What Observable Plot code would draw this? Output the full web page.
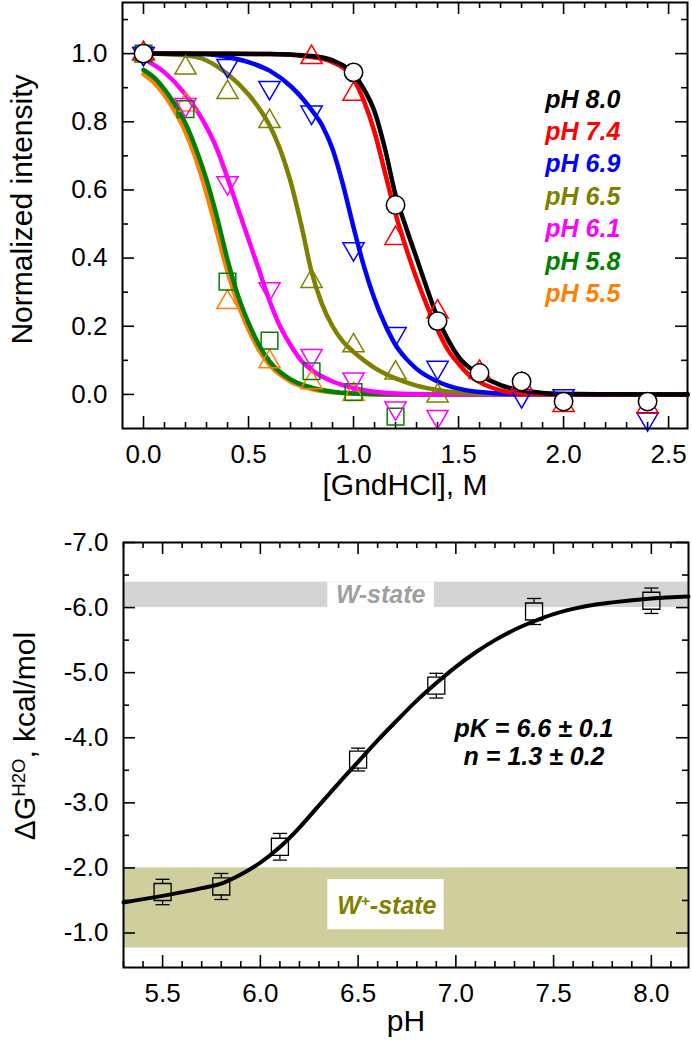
<!DOCTYPE html>
<html><head><meta charset="utf-8">
<script src="https://cdn.jsdelivr.net/npm/d3@7"></script>
<script src="https://cdn.jsdelivr.net/npm/@observablehq/plot@0.6"></script>
<style>
body{margin:0;background:#fff;}
#chart{width:692px;}
#chart svg{display:block;}
</style></head><body><div id="chart"></div>
<script>
// ---------- TOP PANEL DATA ----------
const seriesNames = ["pH 8.0","pH 7.4","pH 6.9","pH 6.5","pH 6.1","pH 5.8","pH 5.5"];
const seriesColors = ["#000000","#ff0000","#0000ff","#808000","#ff00ff","#008000","#ff8000"];
const seriesSymbols = ["circle","triangle","triangleDown","triangle","triangleDown","square","triangle"];

const gnd80 = [0, 1.0, 1.2, 1.4, 1.6, 1.8, 2.0, 2.4];
const int80 = [1.0, 0.945, 0.556, 0.215, 0.063, 0.038, -0.021, -0.021];
const gnd74 = [0, 0.8, 1.0, 1.2, 1.4, 1.6, 1.8, 2.0, 2.4];
const int74 = [1.0, 0.989, 0.881, 0.458, 0.242, 0.065, 0.03, -0.032, -0.037];
const gnd69 = [0, 0.4, 0.6, 0.8, 1.0, 1.2, 1.4, 1.8, 2.0, 2.4];
const int69 = [1.0, 0.965, 0.90, 0.828, 0.427, 0.178, 0.079, -0.004, -0.004, -0.072];
const gnd65 = [0, 0.2, 0.4, 0.6, 0.8, 1.0, 1.2, 1.4];
const int65 = [1.0, 0.958, 0.886, 0.801, 0.332, 0.143, 0.063, -0.004];
const gnd61 = [0, 0.2, 0.4, 0.6, 0.8, 1.0, 1.2, 1.4];
const int61 = [1.0, 0.85, 0.621, 0.31, 0.114, 0.045, -0.04, -0.065];
const gnd58 = [0, 0.2, 0.4, 0.6, 0.8, 1.0, 1.2];
const int58 = [1.0, 0.837, 0.331, 0.158, 0.068, 0.007, -0.065];
const gnd55 = [0, 0.2, 0.4, 0.6, 0.8, 1.0];
const int55 = [1.0, 0.85, 0.27, 0.096, 0.035, 0.0];

// fitted curves
const fit80X = [0, 0.6, 0.8, 0.9, 1.0, 1.05, 1.1, 1.15, 1.2, 1.25, 1.3, 1.35, 1.4, 1.45, 1.5, 1.6, 1.7, 1.8, 1.9, 2.0, 2.59];
const fit80Y = [1.0, 0.999, 0.993, 0.98, 0.94, 0.895, 0.83, 0.72, 0.585, 0.49, 0.40, 0.31, 0.225, 0.16, 0.11, 0.058, 0.027, 0.012, 0.004, 0.001, 0];
const fit74X = [0, 0.6, 0.8, 0.9, 1.0, 1.05, 1.1, 1.15, 1.2, 1.25, 1.3, 1.35, 1.4, 1.45, 1.5, 1.55, 1.6, 1.7, 1.8, 2.0, 2.59];
const fit74Y = [1.0, 0.999, 0.99, 0.975, 0.925, 0.86, 0.77, 0.65, 0.53, 0.43, 0.34, 0.26, 0.19, 0.13, 0.09, 0.057, 0.036, 0.012, 0.003, 0, 0];
const fit69X = [0, 0.3, 0.4, 0.5, 0.6, 0.7, 0.8, 0.85, 0.9, 0.95, 1.0, 1.05, 1.1, 1.15, 1.2, 1.25, 1.3, 1.4, 1.5, 1.6, 1.8, 2.59];
const fit69Y = [1.0, 0.998, 0.99, 0.975, 0.95, 0.905, 0.835, 0.79, 0.72, 0.615, 0.49, 0.375, 0.28, 0.205, 0.145, 0.105, 0.075, 0.038, 0.017, 0.007, 0.001, 0];
const fit65X = [0, 0.2, 0.3, 0.4, 0.5, 0.55, 0.6, 0.65, 0.7, 0.75, 0.8, 0.85, 0.9, 0.95, 1.0, 1.05, 1.1, 1.2, 1.3, 1.4, 1.5, 1.7, 2.59];
const fit65Y = [1.0, 0.995, 0.98, 0.94, 0.88, 0.84, 0.79, 0.72, 0.625, 0.5, 0.36, 0.265, 0.2, 0.155, 0.125, 0.1, 0.078, 0.047, 0.026, 0.013, 0.005, 0.001, 0];
const fit61X = [0, 0.1, 0.2, 0.3, 0.35, 0.4, 0.45, 0.5, 0.55, 0.6, 0.65, 0.7, 0.75, 0.8, 0.9, 1.0, 1.1, 1.2, 1.4, 2.59];
const fit61Y = [0.985, 0.945, 0.88, 0.785, 0.72, 0.635, 0.545, 0.455, 0.365, 0.275, 0.2, 0.145, 0.1, 0.072, 0.038, 0.019, 0.008, 0.003, 0, 0];
const fit58X = [0, 0.05, 0.1, 0.15, 0.2, 0.25, 0.3, 0.35, 0.4, 0.45, 0.5, 0.55, 0.6, 0.7, 0.8, 0.9, 1.0, 1.2, 2.59];
const fit58Y = [0.952, 0.93, 0.895, 0.85, 0.795, 0.72, 0.63, 0.52, 0.395, 0.29, 0.21, 0.145, 0.097, 0.044, 0.02, 0.008, 0.003, 0, 0];
const fit55X = [0, 0.05, 0.1, 0.15, 0.2, 0.25, 0.3, 0.35, 0.4, 0.45, 0.5, 0.55, 0.6, 0.7, 0.8, 0.9, 1.0, 1.2, 2.59];
const fit55Y = [0.94, 0.915, 0.878, 0.83, 0.77, 0.69, 0.59, 0.475, 0.36, 0.265, 0.19, 0.13, 0.087, 0.038, 0.016, 0.006, 0.002, 0, 0];

const topXTicks = [0, 0.5, 1.0, 1.5, 2.0, 2.5];
const topYTicks = [0, 0.2, 0.4, 0.6, 0.8, 1.0];
const topXTitle = "[GndHCl], M";
const topYTitle = "Normalized intensity";

// ---------- BOTTOM PANEL DATA ----------
const phValues = [5.5, 5.8, 6.1, 6.5, 6.9, 7.4, 8.0];
const dGValues = [-1.63, -1.715, -2.325, -3.665, -4.80, -5.94, -6.105];
const dGErrors = [0.195, 0.2, 0.205, 0.175, 0.19, 0.2, 0.195];
const fitPH = [5.3, 5.5, 5.7, 5.8, 5.9, 6.0, 6.1, 6.2, 6.3, 6.4, 6.5, 6.6, 6.7, 6.8, 6.9, 7.0, 7.1, 7.2, 7.3, 7.4, 7.5, 7.6, 7.7, 7.8, 8.0, 8.19];
const fitDG = [-1.47, -1.57, -1.69, -1.76, -1.9, -2.08, -2.32, -2.62, -2.96, -3.3, -3.63, -3.96, -4.27, -4.57, -4.84, -5.09, -5.31, -5.5, -5.66, -5.79, -5.9, -5.98, -6.04, -6.08, -6.14, -6.17];
const stateNames = ["W-state", "W^{+}-state"];
const stateLow = [-6.39, -2.0];
const stateHigh = [-6.0, -0.77];
const bottomXTicks = [5.5, 6.0, 6.5, 7.0, 7.5, 8.0];
const bottomYTicks = [-7, -6, -5, -4, -3, -2, -1];
const bottomXTitle = "pH";
const bottomYTitle = "ΔG^{H2O}, kcal/mol";
const fitResults = ["pK = 6.6 ± 0.1", "n = 1.3 ± 0.2"];

// ---------- helpers ----------
const FONT = "'Liberation Sans', Arial, Helvetica, sans-serif";
const triDown = {draw(ctx, size) {
  const s3 = Math.sqrt(3), y = -Math.sqrt(size / (s3 * 3));
  ctx.moveTo(0, -y * 2); ctx.lineTo(-s3 * y, y); ctx.lineTo(s3 * y, y); ctx.closePath();
}};
const hline = {draw(ctx, size) { const w = Math.sqrt(size); ctx.moveTo(-w / 2, 0); ctx.lineTo(w / 2, 0); }};
const round1 = v => Math.round(v * 100) / 100;

function frameTicks(xMajor, xMinor, yMajor, yMinor, innerW, innerH) {
  const st = {stroke: "black", strokeWidth: 1.6};
  const L = 12, l = 6;
  return [
    Plot.ruleX(xMajor, {x: d => d, insetTop: innerH - L, ...st}),
    Plot.ruleX(xMajor, {x: d => d, insetBottom: innerH - L, ...st}),
    Plot.ruleX(xMinor, {x: d => d, insetTop: innerH - l, ...st}),
    Plot.ruleX(xMinor, {x: d => d, insetBottom: innerH - l, ...st}),
    Plot.ruleY(yMajor, {y: d => d, insetRight: innerW - L, ...st}),
    Plot.ruleY(yMajor, {y: d => d, insetLeft: innerW - L, ...st}),
    Plot.ruleY(yMinor, {y: d => d, insetRight: innerW - l, ...st}),
    Plot.ruleY(yMinor, {y: d => d, insetLeft: innerW - l, ...st})
  ];
}

function applySup(svg) {
  d3.select(svg).selectAll("text").each(function() {
    const t = this.textContent;
    if (!t.includes("^{")) return;
    const parts = t.split(/(\^\{[^}]*\})/);
    const sel = d3.select(this); sel.text(null);
    for (const p of parts) {
      if (!p) continue;
      if (p.startsWith("^{")) sel.append("tspan").attr("baseline-shift", "super").attr("font-size", "62%").text(p.slice(2, -1));
      else sel.append("tspan").text(p);
    }
  });
}

// ---------- TOP PANEL ----------
const gndArrays = [gnd80, gnd74, gnd69, gnd65, gnd61, gnd58, gnd55];
const intArrays = [int80, int74, int69, int65, int61, int58, int55];
const fitXs = [fit80X, fit74X, fit69X, fit65X, fit61X, fit58X, fit55X];
const fitYs = [fit80Y, fit74Y, fit69Y, fit65Y, fit61Y, fit58Y, fit55Y];

const series = seriesNames.map((name, i) => ({
  name, color: seriesColors[i], symbol: seriesSymbols[i],
  points: gndArrays[i].map((g, j) => ({x: g, y: intArrays[i][j]})),
  fit: fitXs[i].map((g, j) => ({x: g, y: fitYs[i][j]}))
}));

const topW = 692, topH = 530, tML = 122, tMR = 5, tMT = 2, tMB = 102;
const tInW = topW - tML - tMR, tInH = topH - tMT - tMB;
const topMinorX = d3.range(1, 26).map(i => round1(i / 10)).filter(v => !topXTicks.includes(v));
const topMinorY = [0.1, 0.3, 0.5, 0.7, 0.9, 1.1];

const drawOrder = [6, 5, 4, 3, 2, 1, 0];
const symbolOf = s => s === "triangleDown" ? triDown : s;
const symbolR = {circle: 9.2, triangle: 7.9, triangleDown: 7.9, square: 9.4};

const topMarks = [
  ...frameTicks(topXTicks, topMinorX, topYTicks, topMinorY, tInW, tInH),
  ...drawOrder.map(i => Plot.line(series[i].fit, {x: "x", y: "y", stroke: series[i].color, strokeWidth: 4.5, curve: "monotone-x"})),
  ...drawOrder.map(i => Plot.dot(series[i].points, {
    x: "x", y: "y", symbol: symbolOf(series[i].symbol), r: symbolR[series[i].symbol],
    stroke: series[i].color, strokeWidth: 1.5,
    fill: series[i].symbol === "circle" ? "white" : "none"
  })),
  Plot.text(series, {
    x: () => 1.913, y: (d, i) => 0.865 - i * 0.095, text: "name", fill: "color",
    textAnchor: "start", fontWeight: "bold", fontStyle: "italic", fontSize: 25
  }),
  Plot.axisX(topXTicks, {anchor: "bottom", tickSize: 0, tickPadding: 16, tickFormat: d => d.toFixed(1), label: null, fontSize: 26}),
  Plot.axisY(topYTicks, {anchor: "left", tickSize: 0, tickPadding: 15, tickFormat: d => d.toFixed(1), label: null, fontSize: 26}),
  Plot.text([topXTitle], {frameAnchor: "bottom", dy: 66, fontSize: 30, textAnchor: "middle"}),
  Plot.text([topYTitle], {frameAnchor: "left", dx: -100, dy: -6, rotate: -90, fontSize: 30, textAnchor: "middle"}),
  Plot.frame({stroke: "black", strokeWidth: 2})
];

const topPlot = Plot.plot({
  width: topW, height: topH, marginLeft: tML, marginRight: tMR, marginTop: tMT, marginBottom: tMB,
  x: {domain: [-0.1, 2.59]},
  y: {domain: [-0.1, 1.15]},
  style: {fontFamily: FONT, fontSize: "26px", color: "black", background: "white", overflow: "visible"},
  marks: topMarks
});

// ---------- BOTTOM PANEL ----------
const botW = 692, botH = 520, bML = 123, bMR = 4, bMT = 12, bMB = 83;
const bInW = botW - bML - bMR, bInH = botH - bMT - bMB;
const botMinorX = d3.range(53, 82).map(i => round1(i / 10)).filter(v => !bottomXTicks.includes(v));
const botMinorY = [-6.5, -5.5, -4.5, -3.5, -2.5, -1.5];

const states = stateNames.map((n, i) => ({name: n, lo: stateLow[i], hi: stateHigh[i]}));
const stateFill = ["#d4d4d4", "#cfcf9e"];
const stateText = ["#a0a0a0", "#808000"];
// label boxes (white background behind the state names)
const labelBoxes = [
  {x1: 6.345, x2: 6.89, y1: -6.39, y2: -6.0},
  {x1: 6.345, x2: 6.94, y1: -1.82, y2: -1.05}
];
const labelPos = [{x: 6.616, y: -6.2}, {x: 6.647, y: -1.42}];

const pts = phValues.map((p, i) => ({x: p, y: dGValues[i], e: dGErrors[i]}));
const fitCurve = fitPH.map((p, i) => ({x: p, y: fitDG[i]}));
const halfSq = 8.5;

const botMarks = [
  Plot.rect(states, {y1: "lo", y2: "hi", fill: (d, i) => stateFill[i]}),
  Plot.rect(labelBoxes, {x1: "x1", x2: "x2", y1: "y1", y2: "y2", fill: "white"}),
  Plot.text(states, {x: (d, i) => labelPos[i].x, y: (d, i) => labelPos[i].y, text: "name",
    fill: (d, i) => stateText[i], fontWeight: "bold", fontStyle: "italic", fontSize: 25, textAnchor: "middle"}),
  ...frameTicks(bottomXTicks, botMinorX, bottomYTicks, botMinorY, bInW, bInH),
  Plot.line(fitCurve, {x: "x", y: "y", stroke: "black", strokeWidth: 4, curve: "monotone-x"}),
  Plot.ruleX(pts, {x: "x", y1: d => d.y - d.e, y2: "y", insetBottom: halfSq, stroke: "black", strokeWidth: 1.3}),
  Plot.ruleX(pts, {x: "x", y1: "y", y2: d => d.y + d.e, insetTop: halfSq, stroke: "black", strokeWidth: 1.3}),
  Plot.dot(pts, {x: "x", y: d => d.y - d.e, symbol: hline, r: 7.9, stroke: "black", strokeWidth: 1.3}),
  Plot.dot(pts, {x: "x", y: d => d.y + d.e, symbol: hline, r: 7.9, stroke: "black", strokeWidth: 1.3}),
  Plot.dot(pts, {x: "x", y: "y", symbol: "square", r: 9.6, stroke: "black", strokeWidth: 1.3, fill: "none"}),
  Plot.text(fitResults, {x: () => 7.40, y: (d, i) => -4.14 + i * 0.44, text: d => d,
    fontWeight: "bold", fontStyle: "italic", fontSize: 25, textAnchor: "middle"}),
  Plot.axisX(bottomXTicks, {anchor: "bottom", tickSize: 0, tickPadding: 16, tickFormat: d => d.toFixed(1), label: null, fontSize: 26}),
  Plot.axisY(bottomYTicks, {anchor: "left", tickSize: 0, tickPadding: 15, tickFormat: d => d.toFixed(1), label: null, fontSize: 26}),
  Plot.text([bottomXTitle], {frameAnchor: "bottom", dy: 63, fontSize: 30, textAnchor: "middle"}),
  Plot.text([bottomYTitle], {frameAnchor: "left", dx: -98, dy: -19, rotate: -90, fontSize: 30, textAnchor: "middle"}),
  Plot.frame({stroke: "black", strokeWidth: 2})
];

const botPlot = Plot.plot({
  width: botW, height: botH, marginLeft: bML, marginRight: bMR, marginTop: bMT, marginBottom: bMB,
  x: {domain: [5.3, 8.19]},
  y: {domain: [-0.47, -7]},
  style: {fontFamily: FONT, fontSize: "26px", color: "black", background: "white", overflow: "visible"},
  marks: botMarks
});

applySup(topPlot);
applySup(botPlot);
const root = document.getElementById("chart");
root.appendChild(topPlot);
root.appendChild(botPlot);
</script>
</body></html>
